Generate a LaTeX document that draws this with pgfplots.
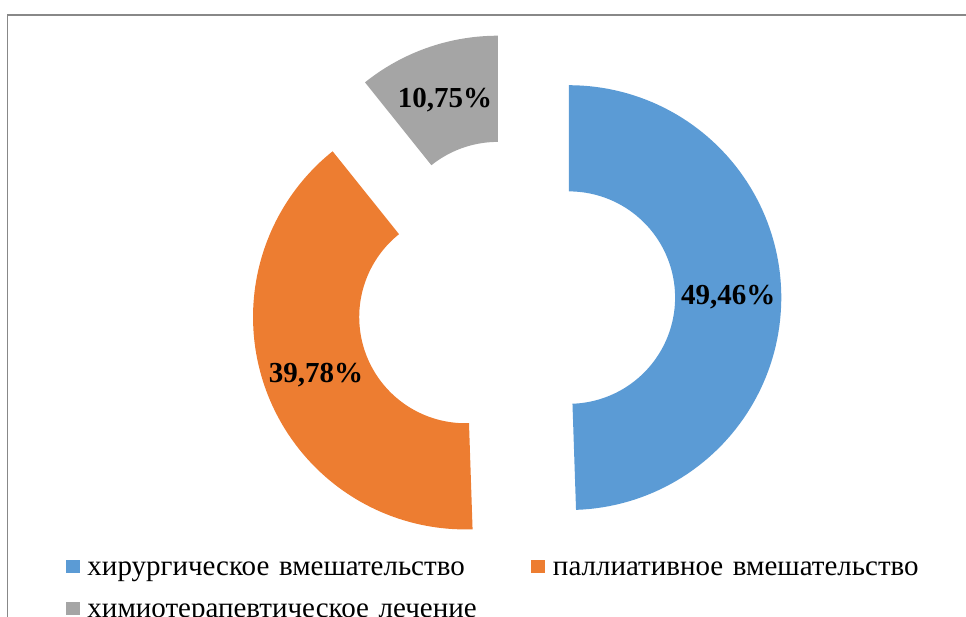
\documentclass[border=0pt]{standalone}
\usepackage{fontspec}
\setmainfont{Liberation Serif}
\usepackage{pgfplots}
\usepackage{pgfplotstable}
\pgfplotsset{compat=1.18}
\definecolor{cblue}{HTML}{5B9BD5}
\definecolor{corange}{HTML}{ED7D31}
\definecolor{cgray}{HTML}{A5A5A5}
\definecolor{cframe}{HTML}{888888}

\pgfplotstableread{
idx value
0 49.46
1 39.78
2 10.75
}\piedata

\newcommand\seg[5]{% colour, centre x, centre y, start angle, end angle
  \addplot[fill=#1, draw=none, samples at={0,1,...,100,200,201,...,300}, variable=\t]
    ({#2+(\t<150?\Rout:\Rin)*cos(\t<150?(#4)+((#5)-(#4))*\t/100:(#5)+((#4)-(#5))*(\t-200)/100)},
     {#3+(\t<150?\Rout:\Rin)*sin(\t<150?(#4)+((#5)-(#4))*\t/100:(#5)+((#4)-(#5))*(\t-200)/100)}) -- cycle;
}

\begin{document}
\begin{tikzpicture}
\pgfplotstablegetelem{0}{value}\of\piedata \let\vA\pgfplotsretval
\pgfplotstablegetelem{1}{value}\of\piedata \let\vB\pgfplotsretval
\pgfplotstablegetelem{2}{value}\of\piedata \let\vC\pgfplotsretval
\pgfmathsetmacro\tot{\vA+\vB+\vC}
\pgfmathsetmacro\sA{90}
\pgfmathsetmacro\eA{90-360*(\vA/\tot)}
\pgfmathsetmacro\eB{\eA-360*(\vB/\tot)}
\pgfmathsetmacro\eC{\eB-360*(\vC/\tot)}
\def\cx{515.5}\def\cy{318.5}\def\Rout{212.4}\def\Rin{106.2}\def\dd{53.4}\def\rl{159.3}
\pgfmathsetmacro\mA{(\sA+\eA)/2}
\pgfmathsetmacro\mB{(\eA+\eB)/2}
\pgfmathsetmacro\mC{(\eB+\eC)/2}
\pgfmathsetmacro\xA{\cx+\dd*cos(\mA)}\pgfmathsetmacro\yA{\cy+\dd*sin(\mA)}
\pgfmathsetmacro\xB{\cx+\dd*cos(\mB)}\pgfmathsetmacro\yB{\cy+\dd*sin(\mB)}
\pgfmathsetmacro\xC{\cx+\dd*cos(\mC)}\pgfmathsetmacro\yC{\cy+\dd*sin(\mC)}
\pgfmathsetmacro\lxA{\xA+\rl*cos(\mA)}\pgfmathsetmacro\lyA{\yA+\rl*sin(\mA)-9.8}
\pgfmathsetmacro\lxB{\xB+\rl*cos(\mB)}\pgfmathsetmacro\lyB{\yB+\rl*sin(\mB)-9.8}
\pgfmathsetmacro\lxC{\xC+\rl*cos(\mC)}\pgfmathsetmacro\lyC{\yC+\rl*sin(\mC)-9.8}
\begin{axis}[
  name=ax,
  width=966pt, height=617pt, scale only axis,
  xmin=0, xmax=966, ymin=0, ymax=617,
  hide axis, clip=false,
  legend columns=2,
  legend cell align=left,
  legend image code/.code={\fill[#1] (0pt,-3.5pt) rectangle (14pt,9.5pt);},
  legend style={
    at={(axis description cs:0.06832,0.09887)}, anchor=north west,
    draw=none, fill=none, inner sep=0pt, outer sep=0pt,
    font=\fontsize{29}{35}\selectfont,
    nodes={inner sep=0pt, outer sep=0pt, text height=20pt, text depth=7pt, text width=444pt},
    row sep=14.6pt,
    /tikz/every odd column/.style={column sep=7.5pt},
  },
]
\seg{cblue}{\xA}{\yA}{\sA}{\eA}
\addlegendentry{хирургическое вмешательство}
\seg{corange}{\xB}{\yB}{\eA}{\eB}
\addlegendentry{паллиативное вмешательство}
\seg{cgray}{\xC}{\yC}{\eB}{\eC}
\addlegendentry{химиотерапевтическое лечение}
\node[font=\bfseries\fontsize{29}{35}\selectfont, anchor=base, inner sep=0pt] at (axis cs:\lxA,\lyA) {49,46\%};
\node[font=\bfseries\fontsize{29}{35}\selectfont, anchor=base, inner sep=0pt] at (axis cs:\lxB,\lyB) {39,78\%};
\node[font=\bfseries\fontsize{29}{35}\selectfont, anchor=base, inner sep=0pt] at (axis cs:\lxC,\lyC) {10,75\%};
\draw[cframe, line width=1.3pt] (axis cs:7.5,-10) -- (axis cs:7.5,602) -- (axis cs:980,602);
\end{axis}
\pgfresetboundingbox
\path (ax.south west) rectangle (ax.north east);
\end{tikzpicture}
\end{document}
